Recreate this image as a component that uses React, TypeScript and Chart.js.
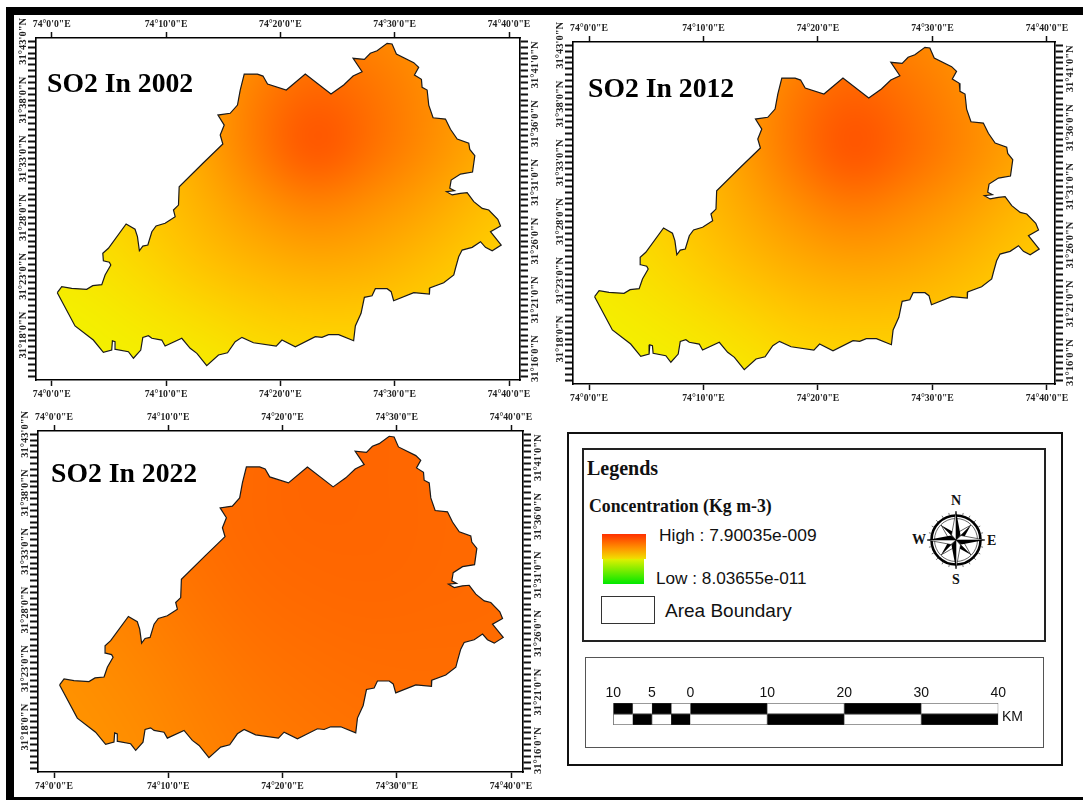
import React, { useEffect, useRef } from "react";
import { Chart, registerables } from "chart.js";

Chart.register(...registerables);

// Boundary of the study area, in minutes past 74°E and minutes past 31°N
const boundaryLon = [0.49,0.88,1.75,3.06,3.59,4.38,4.67,5.17,5.04,4.52,4.47,4.96,6.51,7.29,7.5,7.67,7.97,8.41,8.76,9.13,9.92,10.8,10.65,11.09,11.15,13.25,14.97,14.74,15.09,14.54,15.61,16.25,16.49,16.84,18,18.48,18.88,20.52,22.18,24.43,25.54,26.36,27.15,26.36,27.35,27.87,28.46,29.34,29.77,30.15,31.67,32.1,31.73,32.34,32.4,32.84,32.98,33.36,34.44,34.88,35.47,36.48,36.57,37.01,36.81,35.76,34.94,34.82,35.23,34.53,35.03,35.75,36.34,36.92,37.66,38.23,39.02,39.26,38.38,39.32,38.53,37.94,37.51,36.78,35.9,35.6,35.32,35.17,34.29,33.07,33.04,31.67,29.91,29.69,29.34,28.31,28.02,27.35,27.06,26.56,26.41,25.1,24.22,23.64,23.06,21.31,20.14,19.64,17.65,16.64,16.05,15.38,14.59,13.56,12.7,12.11,11.38,9.92,9.63,8.76,8.46,7.97,7.79,7.15,6.71,5.6,5.54,5.31,5.25,4.52,3.64,2.04,0.49];
const boundaryLat = [21.6,22.11,21.97,21.89,22.2,22.28,23.11,23.96,24.19,24.32,24.95,25.38,27.45,27,26.37,25.17,25.57,25.66,26.79,27.28,27.51,28.07,28.64,29.06,30.62,32.64,34.26,35.02,35.87,36.72,36.87,37.57,38.85,40.21,40.21,40.04,39.36,38.85,40.21,38.51,39.28,40.04,40.41,41.55,41.46,41.98,42.2,42.83,42.77,41.92,41.18,40.78,40.13,39.76,39.08,38.85,37.57,36.49,36.38,35.51,34.68,34.32,33.8,33.26,31.87,31.7,31.19,30.49,30.28,30.2,29.92,30.06,30.11,29.35,28.78,28.64,27.85,27.28,26.79,25.66,25.17,25.46,25.94,25.46,25.23,24.66,23.68,23.11,22.45,22,21.49,21.6,20.92,21.69,21.94,21.94,21.34,21.21,19.85,18.77,17.51,18.03,18.03,17.8,17.86,17,17.57,17.06,17.34,17.8,17.43,16.49,16.3,15.39,16.44,16.87,17.72,17.06,17.57,17.72,17.94,17.8,16.72,16.02,16.58,16.78,17.43,17.51,16.72,16.53,17.57,18.77,21.6];

// Tick positions, minutes
const lonTicks = [0, 10, 20, 30, 40];
const latLabelsLeft = [18, 23, 28, 33, 38, 43];
const latLabelsRight = [16, 21, 26, 31, 36, 41];

// Concentration field, units of 1e-9 kg m-3
const gridLon = [-2, 3, 8, 13, 18, 23, 28, 33, 38, 43];
const gridLat = [44, 39, 34, 29, 24, 19, 14];
const so2_2002 = [
  [4.53,4.68,4.91,5.22,5.6,5.91,5.83,5.6,5.29,5.06],
  [4.45,4.6,4.91,5.37,5.98,6.37,6.14,5.75,5.37,5.06],
  [4.34,4.5,4.83,5.37,6.06,6.7,6.21,5.75,5.29,4.99],
  [4.4,4.56,4.83,5.17,5.6,5.91,5.68,5.37,4.99,4.76],
  [4.3,4.4,4.6,4.91,5.14,5.29,5.22,4.99,4.73,4.6],
  [4.14,4.22,4.34,4.5,4.68,4.76,4.76,4.68,4.53,4.45],
  [3.99,4.07,4.14,4.25,4.37,4.45,4.45,4.45,4.37,4.3],
];
const so2_2012 = [
  [4.6,4.76,5.0,5.3,5.68,5.98,5.83,5.6,5.29,5.06],
  [4.5,4.68,4.99,5.45,6.06,6.45,6.14,5.75,5.37,5.14],
  [4.37,4.53,4.91,5.45,6.14,6.72,6.29,5.83,5.37,5.06],
  [4.42,4.58,4.88,5.25,5.68,6.0,5.75,5.45,5.06,4.83],
  [4.32,4.43,4.65,4.95,5.22,5.37,5.29,5.06,4.8,4.68],
  [4.16,4.25,4.38,4.55,4.76,4.83,4.83,4.76,4.6,4.53],
  [4.0,4.1,4.2,4.3,4.45,4.53,4.53,4.53,4.45,4.37],
];
const so2_2022 = [
  [5.98,6.09,6.18,6.24,6.29,6.34,6.34,6.3,6.27,6.24],
  [5.91,6.03,6.14,6.24,6.3,6.37,6.34,6.3,6.27,6.24],
  [5.83,5.94,6.09,6.21,6.3,6.34,6.34,6.3,6.27,6.24],
  [5.75,5.86,5.98,6.14,6.24,6.29,6.3,6.29,6.27,6.24],
  [5.68,5.75,5.88,6.03,6.15,6.21,6.24,6.24,6.24,6.21],
  [5.6,5.68,5.78,5.94,6.06,6.14,6.18,6.21,6.18,6.15],
  [5.57,5.63,5.72,5.88,5.98,6.06,6.12,6.14,6.14,6.09],
];
const legendHigh = 7.90035;
const legendLow = 0.0803655;

// Scale bar, km
const scaleTicks = [-10, -5, 0, 10, 20, 30, 40];
const scaleEdges = [-10, -7.5, -5, -2.5, 0, 10, 20, 30, 40];

const SERIF = '"Liberation Serif", "Times New Roman", serif';
const SANS = '"Liberation Sans", Arial, sans-serif';

function ramp(v: number) {
  const t = Math.max(0, Math.min(1, (v - legendLow) / (legendHigh - legendLow)));
  if (t < 0.5) return [240 * t * 2, 240];
  return [240 + 15 * Math.min(1, (t - 0.5) / 0.1), Math.min(242, 255 * (1 - (t - 0.5) * 2))];
}

function fieldPlugin(grid: number[][]) {
  return {
    id: "field",
    beforeDatasetsDraw(chart: any) {
      const xs = chart.scales.x;
      const ys = chart.scales.y;
      const pts = chart.getDatasetMeta(0).data;
      const small = document.createElement("canvas");
      small.width = gridLon.length;
      small.height = gridLat.length;
      const sctx = small.getContext("2d")!;
      const img = sctx.createImageData(small.width, small.height);
      grid.forEach((row, j) =>
        row.forEach((v, i) => {
          const [r, g] = ramp(v);
          const k = (j * small.width + i) * 4;
          img.data[k] = r;
          img.data[k + 1] = g;
          img.data[k + 2] = 0;
          img.data[k + 3] = 255;
        })
      );
      sctx.putImageData(img, 0, 0);
      const off = document.createElement("canvas");
      off.width = chart.width;
      off.height = chart.height;
      const octx = off.getContext("2d")!;
      octx.imageSmoothingEnabled = true;
      octx.imageSmoothingQuality = "high";
      (octx as any).filter = "blur(14px)";
      const dx = xs.getPixelForValue(gridLon[0] - 2.5);
      const dw = xs.getPixelForValue(gridLon[gridLon.length - 1] + 2.5) - dx;
      const dy = ys.getPixelForValue(gridLat[0] + 2.5);
      const dh = ys.getPixelForValue(gridLat[gridLat.length - 1] - 2.5) - dy;
      octx.drawImage(small, dx, dy, dw, dh);
      const ctx = chart.ctx;
      ctx.save();
      ctx.beginPath();
      pts.forEach((p: any, i: number) => (i ? ctx.lineTo(p.x, p.y) : ctx.moveTo(p.x, p.y)));
      ctx.closePath();
      ctx.clip();
      ctx.drawImage(off, 0, 0);
      ctx.restore();
    },
  };
}

const halfMinuteTicks = Array.from({ length: 58 }, (_, i) => 14.5 + i * 0.5);

type Frame = { l: number; t: number; r: number; b: number; lon0: number; lon40: number };
type Box = { left: number; top: number; width: number; height: number };

function MapChart({ box, frame, grid, year, titleAt }: { box: Box; frame: Frame; grid: number[][]; year: number; titleAt: [number, number] }) {
  const ref = useRef<HTMLCanvasElement>(null);
  useEffect(() => {
    const perMin = (frame.lon40 - frame.lon0) / 40;
    const xMin = (frame.l - frame.lon0) / perMin;
    const xMax = (frame.r - frame.lon0) / perMin;
    const lonLabel = (v: number) => `74°${v}'0"E`;
    const latLabel = (list: number[]) => (v: number) => (list.includes(v) ? `31°${v}'0"N` : "");
    const lonAxis = (position: string, size: number, padding: number) => ({
      axis: "x",
      type: "linear",
      position,
      min: xMin,
      max: xMax,
      afterBuildTicks: (s: any) => (s.ticks = lonTicks.map((value) => ({ value }))),
      afterFit: (s: any) => (s.height = size),
      border: { display: true, color: "#000", width: 1.6 },
      grid: { drawOnChartArea: false, drawTicks: true, tickLength: 6, tickColor: "#111", tickWidth: 1.5 },
      ticks: {
        autoSkip: false,
        maxRotation: 0,
        padding,
        color: "#222",
        font: { family: SERIF, size: 9.7, weight: "bold" },
        callback: lonLabel,
      },
    });
    const latAxis = (position: string, size: number, list: number[], padding: number) => ({
      axis: "y",
      type: "linear",
      position,
      min: 14.17,
      max: 43.28,
      afterBuildTicks: (s: any) => (s.ticks = halfMinuteTicks.map((value) => ({ value }))),
      afterFit: (s: any) => (s.width = size),
      border: { display: true, color: "#000", width: 1.6 },
      grid: { drawOnChartArea: false, drawTicks: true, tickLength: 8, tickColor: "#111", tickWidth: 2 },
      ticks: {
        autoSkip: false,
        minRotation: 90,
        maxRotation: 90,
        crossAlign: "center",
        padding,
        color: "#222",
        font: { family: SERIF, size: 10.5, weight: "bold" },
        callback: latLabel(list),
      },
    });
    const chart = new Chart(ref.current!, {
      type: "scatter",
      data: {
        datasets: [
          {
            label: `SO2 In ${year}`,
            data: boundaryLon.map((x, i) => ({ x, y: boundaryLat[i] })),
            xAxisID: "x",
            yAxisID: "y",
            showLine: true,
            fill: false,
            tension: 0,
            borderColor: "#1a1a1a",
            borderWidth: 1.2,
            pointRadius: 0,
          },
        ],
      },
      options: {
        responsive: false,
        animation: false,
        events: [],
        layout: { padding: 0 },
        plugins: { legend: { display: false }, tooltip: { enabled: false } },
        scales: {
          x: lonAxis("bottom", box.top + box.height - frame.b, 3),
          xTop: lonAxis("top", frame.t - box.top, 2),
          y: latAxis("left", frame.l - box.left, latLabelsLeft, -19),
          yRight: latAxis("right", box.left + box.width - frame.r, latLabelsRight, -16),
        },
      } as any,
      plugins: [fieldPlugin(grid)],
    } as any);
    return () => chart.destroy();
  }, []);
  return (
    <>
      <canvas ref={ref} width={box.width} height={box.height} style={{ position: "absolute", left: box.left, top: box.top }} />
      <div
        style={{
          position: "absolute",
          left: titleAt[0],
          top: titleAt[1],
          font: `bold 27.7px ${SERIF}`,
          color: "#000",
          lineHeight: "30px",
          whiteSpace: "nowrap",
        }}
      >
        {`SO2 In ${year}`}
      </div>
    </>
  );
}

function ScaleBar() {
  const ref = useRef<HTMLCanvasElement>(null);
  useEffect(() => {
    const segments = scaleEdges.slice(0, -1).map((from, i) => [from, scaleEdges[i + 1]]);
    const datasets = segments.flatMap((seg, i) => [
      {
        label: `upper ${seg[0]}`,
        data: [seg, null],
        backgroundColor: i % 2 === 0 ? "#000" : "#fff",
        borderColor: "#333",
        borderWidth: 0.8,
        grouped: false,
        barPercentage: 1,
        categoryPercentage: 1,
      },
      {
        label: `lower ${seg[0]}`,
        data: [null, seg],
        backgroundColor: i % 2 === 0 ? "#fff" : "#000",
        borderColor: "#333",
        borderWidth: 0.8,
        grouped: false,
        barPercentage: 1,
        categoryPercentage: 1,
      },
    ]);
    const chart = new Chart(ref.current!, {
      type: "bar",
      data: { labels: ["upper", "lower"], datasets },
      options: {
        indexAxis: "y",
        responsive: false,
        animation: false,
        events: [],
        layout: { padding: { left: 13.3, right: 21.7, top: 0, bottom: 0 } },
        plugins: { legend: { display: false }, tooltip: { enabled: false } },
        scales: {
          x: {
            type: "linear",
            position: "top",
            min: -10,
            max: 40,
            afterBuildTicks: (s: any) => (s.ticks = scaleTicks.map((value) => ({ value }))),
            afterFit: (s: any) => (s.height = 22),
            border: { display: false },
            grid: { display: false, drawTicks: false },
            ticks: {
              autoSkip: false,
              maxRotation: 0,
              padding: 1,
              color: "#111",
              font: { family: SANS, size: 14 },
              callback: (v: number) => String(Math.abs(v)),
            },
          },
          y: { type: "category", display: false },
        },
      } as any,
    } as any);
    return () => chart.destroy();
  }, []);
  return <canvas ref={ref} width={420} height={44} style={{ position: "absolute", left: 600, top: 681 }} />;
}

function Compass() {
  const long = [0, 90, 180, 270];
  const diag = [45, 135, 225, 315];
  const ringTicks = Array.from({ length: 24 }, (_, i) => i * 15);
  return (
    <svg width={64} height={64} viewBox="-32 -32 64 64" style={{ position: "absolute", left: 924, top: 508 }}>
      <circle r={24.5} fill="none" stroke="#000" strokeWidth={2.6} />
      <circle r={21.5} fill="none" stroke="#000" strokeWidth={0.6} />
      {ringTicks.map((a) => (
        <line key={a} x1={0} y1={-25} x2={0} y2={-28} stroke="#333" strokeWidth={0.6} transform={`rotate(${a})`} />
      ))}
      {diag.map((a) => (
        <g key={a} transform={`rotate(${a})`}>
          <polygon points="0,-21 0,0 4.5,-5" fill="#000" />
          <polygon points="0,-21 0,0 -4.5,-5" fill="#fff" stroke="#000" strokeWidth={0.6} />
        </g>
      ))}
      {long.map((a) => (
        <g key={a} transform={`rotate(${a})`}>
          <polygon points="0,-29 0,0 4.5,-5" fill="#000" />
          <polygon points="0,-29 0,0 -4.5,-5" fill="#fff" stroke="#000" strokeWidth={0.6} />
        </g>
      ))}
    </svg>
  );
}

function Text({ x, y, font, children }: { x: number; y: number; font: string; children: React.ReactNode }) {
  return (
    <div style={{ position: "absolute", left: x, top: y, font, lineHeight: "20px", color: "#111", whiteSpace: "nowrap" }}>
      {children}
    </div>
  );
}

function Rect(props: { l: number; t: number; r: number; b: number; border: string; bg?: string }) {
  return (
    <div
      style={{
        position: "absolute",
        left: props.l,
        top: props.t,
        width: props.r - props.l,
        height: props.b - props.t,
        boxSizing: "border-box",
        border: props.border,
        background: props.bg,
      }}
    />
  );
}

export default function App() {
  return (
    <div style={{ position: "absolute", left: 0, top: 0, width: 1083, height: 800, background: "#fff", overflow: "hidden" }}>
      <div style={{ position: "absolute", left: 6, top: 7, width: 1077, height: 8, background: "#000" }} />
      <div style={{ position: "absolute", left: 6, top: 7, width: 8, height: 793, background: "#000" }} />
      <div style={{ position: "absolute", left: 6, top: 797, width: 1077, height: 3, background: "#000" }} />

      <MapChart box={{ left: 14, top: 15, width: 534, height: 388 }} frame={{ l: 36, t: 38, r: 520, b: 380, lon0: 51.7, lon40: 509 }} grid={so2_2002} year={2002} titleAt={[47, 68]} />
      <MapChart box={{ left: 548, top: 15, width: 535, height: 390 }} frame={{ l: 573, t: 42, r: 1055, b: 384, lon0: 589, lon40: 1047 }} grid={so2_2012} year={2012} titleAt={[588, 73]} />
      <MapChart box={{ left: 14, top: 405, width: 534, height: 392 }} frame={{ l: 38, t: 431, r: 523, b: 772, lon0: 54, lon40: 511 }} grid={so2_2022} year={2022} titleAt={[51, 458]} />

      <Rect l={567} t={432} r={1063} b={766} border="2px solid #111" />
      <Rect l={582} t={448} r={1046} b={642} border="2px solid #222" />
      <Rect l={585} t={657} r={1044} b={748} border="1.5px solid #555" />

      <Text x={587} y={458} font={`bold 20px ${SERIF}`}>Legends</Text>
      <Text x={589} y={496} font={`bold 17.8px ${SERIF}`}>Concentration (Kg m-3)</Text>
      <Text x={659} y={525} font={`17.4px ${SANS}`}>High : 7.90035e-009</Text>
      <Text x={656} y={568} font={`17.2px ${SANS}`}>Low : 8.03655e-011</Text>
      <Text x={665} y={601} font={`19px ${SANS}`}>Area Boundary</Text>
      <div style={{ position: "absolute", left: 602, top: 534, width: 44, height: 25, background: "linear-gradient(#ff3000,#ff9000 55%,#f0e000)" }} />
      <div style={{ position: "absolute", left: 603, top: 559, width: 41, height: 25, background: "linear-gradient(#e0f000,#00e800)" }} />
      <Rect l={601} t={596} r={655} b={624} border="1.5px solid #333" />

      <Compass />
      <Text x={951} y={491} font={`bold 14px ${SERIF}`}>N</Text>
      <Text x={952} y={570} font={`bold 14px ${SERIF}`}>S</Text>
      <Text x={912} y={530} font={`bold 14px ${SERIF}`}>W</Text>
      <Text x={987} y={531} font={`bold 14px ${SERIF}`}>E</Text>

      <ScaleBar />
      <Text x={1002} y={706} font={`14px ${SANS}`}>KM</Text>
    </div>
  );
}
